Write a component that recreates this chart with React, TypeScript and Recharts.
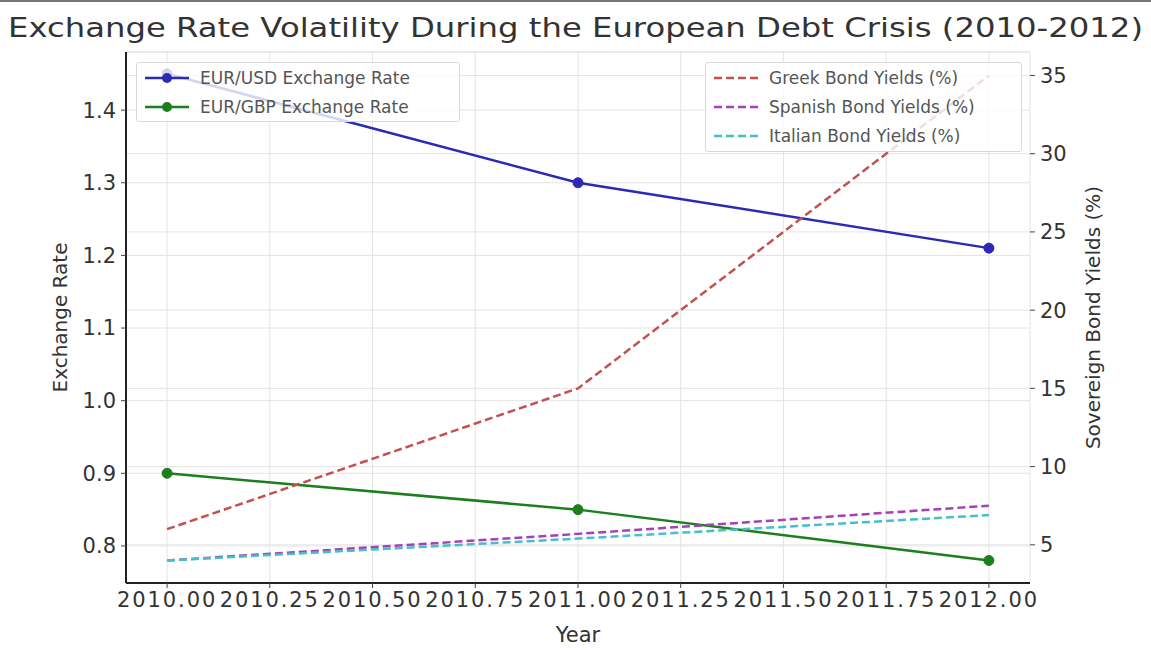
import React from 'react';
import { LineChart, Line, XAxis, YAxis, CartesianGrid } from 'recharts';

const years = [2010, 2011, 2012];
const eurUsd = [1.45, 1.3, 1.21];
const eurGbp = [0.9, 0.85, 0.78];
const greekYields = [6, 15, 35];
const spanishYields = [4, 5.7, 7.5];
const italianYields = [4, 5.4, 6.9];

const yearTicks = [2010, 2010.25, 2010.5, 2010.75, 2011, 2011.25, 2011.5, 2011.75, 2012];
const rateTicks = [0.8, 0.9, 1.0, 1.1, 1.2, 1.3, 1.4];
const yieldTicks = [5, 10, 15, 20, 25, 30, 35];

const FONT = '"DejaVu Sans", sans-serif';

const rateSeries = [
  { key: 'eurUsd', name: 'EUR/USD Exchange Rate', color: '#2a2ab4' },
  { key: 'eurGbp', name: 'EUR/GBP Exchange Rate', color: '#1b7f1b' }
];

const yieldSeries = [
  { key: 'greek', name: 'Greek Bond Yields (%)', color: '#c4514f' },
  { key: 'spanish', name: 'Spanish Bond Yields (%)', color: '#a640b8' },
  { key: 'italian', name: 'Italian Bond Yields (%)', color: '#45c0c8' }
];

const data = years.map((year, i) => ({
  year,
  eurUsd: eurUsd[i],
  eurGbp: eurGbp[i],
  greek: greekYields[i],
  spanish: spanishYields[i],
  italian: italianYields[i]
}));

const legendBox: React.CSSProperties = {
  position: 'absolute',
  border: '1px solid #d8d8d8',
  borderRadius: 3,
  background: 'rgba(255,255,255,0.8)',
  padding: '0px 6px',
  boxSizing: 'border-box',
  fontFamily: FONT,
  fontSize: 17,
  color: '#555'
};

const LegendRow = ({ color, name, dashed }: { color: string; name: string; dashed?: boolean }) => (
  <div style={{ display: 'flex', alignItems: 'center', height: 29 }}>
    <svg width={48} height={14} style={{ marginRight: 9 }}>
      <line
        x1={2}
        y1={7}
        x2={46}
        y2={7}
        stroke={color}
        strokeWidth={2.5}
        strokeDasharray={dashed ? '8 4' : undefined}
      />
      {!dashed && <circle cx={24} cy={7} r={5} fill={color} />}
    </svg>
    <span>{name}</span>
  </div>
);

const App: React.FC = () => {
  return (
    <div style={{ position: 'absolute', left: 0, top: 0, width: 1151, height: 650, background: '#fff' }}>
      <div style={{ position: 'absolute', left: 0, top: 0, width: 1151, height: 2, background: '#777' }} />
      <svg style={{ position: 'absolute', left: 0, top: 0 }} width={1151} height={50}>
        <text
          x={8}
          y={37}
          fontFamily={FONT}
          fontSize={27}
          fill="#333"
          textLength={1135}
          lengthAdjust="spacingAndGlyphs"
        >
          Exchange Rate Volatility During the European Debt Crisis (2010-2012)
        </text>
      </svg>

      <div style={{ position: 'absolute', left: 0, top: 0 }}>
        <LineChart width={1151} height={650} data={data} margin={{ top: 52, right: 0, bottom: 0, left: 0 }}>
          <CartesianGrid yAxisId="left" stroke="#e4e4e4" strokeWidth={1} />
          <CartesianGrid yAxisId="right" stroke="#e4e4e4" strokeWidth={1} vertical={false} />
          <XAxis
            dataKey="year"
            type="number"
            domain={[2009.9, 2012.1]}
            ticks={yearTicks}
            tickFormatter={(v: number) => v.toFixed(2)}
            allowDataOverflow
            height={67}
            tickSize={5}
            tickMargin={4}
            axisLine={{ stroke: '#222', strokeWidth: 2 }}
            tickLine={{ stroke: '#444' }}
            tick={{ fontSize: 21, fill: '#333', fontFamily: FONT, letterSpacing: 1.9 }}
            label={{ value: 'Year', position: 'insideBottom', offset: 8, fontSize: 21, fill: '#333', fontFamily: FONT }}
          />
          <YAxis
            yAxisId="left"
            orientation="left"
            type="number"
            domain={[0.749, 1.48]}
            ticks={rateTicks}
            allowDataOverflow
            tickFormatter={(v: number) => v.toFixed(1)}
            width={126}
            tickSize={5}
            tickMargin={5}
            axisLine={{ stroke: '#222', strokeWidth: 2 }}
            tickLine={{ stroke: '#444' }}
            tick={{ fontSize: 21, fill: '#333', fontFamily: FONT }}
            label={{
              value: 'Exchange Rate',
              angle: -90,
              position: 'insideLeft',
              offset: 60,
              style: { textAnchor: 'middle' },
              fontSize: 20,
              fill: '#333',
              fontFamily: FONT
            }}
          />
          <YAxis
            yAxisId="right"
            orientation="right"
            type="number"
            domain={[2.56, 36.5]}
            ticks={yieldTicks}
            allowDataOverflow
            width={121}
            tickSize={5}
            tickMargin={5}
            axisLine={false}
            tickLine={{ stroke: '#444' }}
            tick={{ fontSize: 21, fill: '#333', fontFamily: FONT }}
            label={{
              value: 'Sovereign Bond Yields (%)',
              angle: -90,
              position: 'insideRight',
              offset: 58,
              style: { textAnchor: 'middle' },
              fontSize: 20,
              fill: '#333',
              fontFamily: FONT
            }}
          />
          {rateSeries.map(s => (
            <Line
              key={s.key}
              yAxisId="left"
              dataKey={s.key}
              name={s.name}
              stroke={s.color}
              strokeWidth={2.5}
              dot={{ r: 5, fill: s.color, stroke: s.color, strokeWidth: 1 }}
              activeDot={false}
              isAnimationActive={false}
              type="linear"
            />
          ))}
          {yieldSeries.map(s => (
            <Line
              key={s.key}
              yAxisId="right"
              dataKey={s.key}
              name={s.name}
              stroke={s.color}
              strokeWidth={2.5}
              strokeDasharray="8 4"
              dot={false}
              activeDot={false}
              isAnimationActive={false}
              type="linear"
            />
          ))}
        </LineChart>
      </div>

      <div style={{ ...legendBox, left: 136, top: 62, width: 324, height: 60 }}>
        {rateSeries.map(s => (
          <LegendRow key={s.key} color={s.color} name={s.name} />
        ))}
      </div>
      <div style={{ ...legendBox, left: 705, top: 62, width: 317, height: 90 }}>
        {yieldSeries.map(s => (
          <LegendRow key={s.key} color={s.color} name={s.name} dashed />
        ))}
      </div>
    </div>
  );
};

export default App;
